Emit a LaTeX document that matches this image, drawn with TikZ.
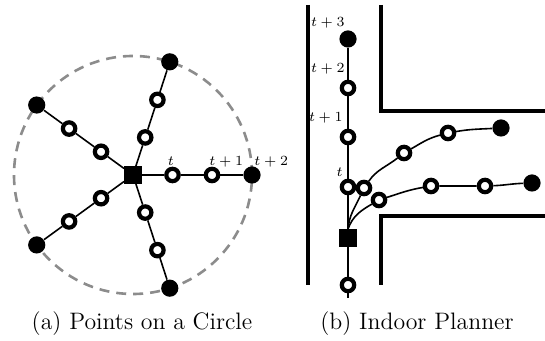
\documentclass[tikz,border=0pt]{standalone}
\usepackage{amsmath,amssymb}
\usepackage{tikz}

\begin{document}
\begin{tikzpicture}[x=0.5pt, y=0.5pt,
  goal/.style={circle, fill=black, inner sep=0pt, minimum size=8.6pt},
  waypt/.style={circle, draw=black, fill=white, line width=2.1pt, inner sep=0pt, minimum size=6.2pt},
  robot/.style={rectangle, fill=black, inner sep=0pt, minimum size=8.6pt},
  traj/.style={line width=0.8pt},
  wall/.style={line width=2pt},
  lbl/.style={font=\scriptsize, inner sep=0pt},
  capt/.style={font=\fontsize{11.9}{14}\selectfont, inner sep=0pt, anchor=base}]
\useasboundingbox (0,0) rectangle (545,341);
\draw[gray!90, line width=1.3pt, dash pattern=on 5pt off 3.5pt] (133,166) circle[radius=119];
\node[robot] (s) at (133,166) {};
\foreach \a [count=\i] in {0,72,144,216,288} {
  \path (s) ++(\a:39.5) node[waypt] (w\i a) {}
        (s) ++(\a:79) node[waypt] (w\i b) {}
        (s) ++(\a:119) node[goal] (g\i) {};
  \draw[traj] (s) -- (w\i a) -- (w\i b) -- (g\i);
}
\node[lbl, anchor=base] (la) at (171,175) {$t$};
\node[lbl, anchor=base west] (lb) at (209,175) {$t+1$};
\node[lbl, anchor=base west] (lc) at (254,175) {$t+2$};
\node[capt] (capa) at (142,11) {(a) Points on a Circle};

\draw[wall] (308,336) -- (308,56);
\draw[wall] (381,336) |- (545,230);
\draw[wall] (545,125) -| (381,56);
\coordinate (tail) at (348,43);
\node[waypt] (b0) at (348,56) {};
\node[robot] (r) at (348,103) {};
\node[waypt] (v1) at (348,154) {};
\node[waypt] (v2) at (348,204) {};
\node[waypt] (v3) at (348,253) {};
\node[goal] (vg) at (348,302) {};
\draw[traj] (tail) -- (b0) -- (r) -- (v1) -- (v2) -- (v3) -- (vg);
\node[waypt] (c1) at (364,153) {};
\node[waypt] (c2) at (404,188) {};
\node[waypt] (c3) at (448,208) {};
\node[goal] (cg) at (501,213) {};
\draw[traj] (r.north) to[out=85,in=245] (c1) to[out=55,in=218] (c2) to[out=30,in=195] (c3) to[out=10,in=183] (cg);
\node[waypt] (d1) at (379,141) {};
\node[waypt] (d2) at (431,155) {};
\node[waypt] (d3) at (485,155) {};
\node[goal] (dg) at (532,158) {};
\draw[traj] (r.north) to[out=70,in=210] (d1) to[out=18,in=190] (d2) to[out=0,in=180] (d3) to[out=2,in=182] (dg);
\node[lbl, anchor=base east] (l3) at (345,314) {$t+3$};
\node[lbl, anchor=base east] (l2) at (345,268) {$t+2$};
\node[lbl, anchor=base east] (l1) at (343,219) {$t+1$};
\node[lbl, anchor=base east] (l0) at (343,164) {$t$};
\node[capt] (capb) at (417,11) {(b) Indoor Planner};
\end{tikzpicture}
\end{document}
